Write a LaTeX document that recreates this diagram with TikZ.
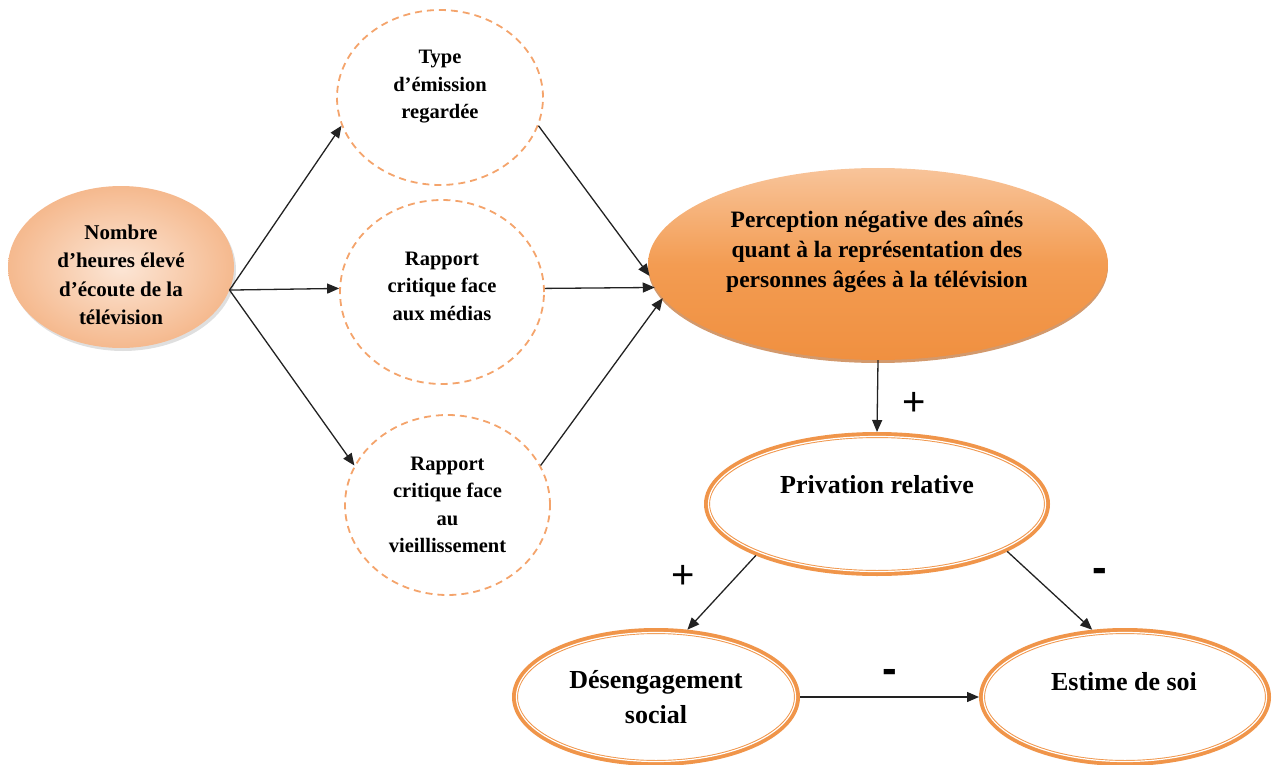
\documentclass[tikz,border=0pt]{standalone}
\usepackage{fontspec}
\setmainfont{Liberation Serif}
\newfontfamily\signfont{Liberation Sans}
\usetikzlibrary{arrows.meta,shapes.geometric,shadows}
\definecolor{dashorange}{HTML}{F4A46C}
\definecolor{ringorange}{HTML}{F0954A}
\definecolor{peachin}{HTML}{FCE6D6}
\definecolor{peachout}{HTML}{F5B98E}
\definecolor{bigtop}{HTML}{F8C49A}
\definecolor{bigmid}{HTML}{F39C52}
\definecolor{bigbot}{HTML}{F09040}
\definecolor{bigshadow}{HTML}{C06E2E}
\definecolor{arrowgray}{HTML}{222222}
\begin{document}
\begin{tikzpicture}[x=1pt,y=-1pt,
  dashcirc/.style={ellipse, draw=dashorange, dash pattern=on 7pt off 5pt, line width=1.8pt, inner sep=0pt},
  ring/.style={ellipse, draw=ringorange, line width=6pt, inner sep=0pt},
  ringline/.style={draw=white, line width=1.2pt},
  smalltxt/.style={align=center, font=\bfseries\fontsize{20.5}{27.5}\selectfont},
  bigtxt/.style={align=center, font=\bfseries\fontsize{23.5}{30}\selectfont},
  ringtxt/.style={align=center, font=\bfseries\fontsize{26}{35}\selectfont},
  arr/.style={-{Triangle[length=12pt,width=10pt]}, line width=1.3pt, draw=arrowgray},
  signtxt/.style={font=\signfont\fontsize{40}{40}\selectfont},
  minustxt/.style={font=\signfont\bfseries\fontsize{44}{44}\selectfont}
]
\useasboundingbox (0,0) rectangle (1272,765);

% left source ellipse
\node[ellipse, inner sep=0pt, minimum width=226pt, minimum height=162pt,
      shading=radial, inner color=peachin, outer color=peachout,
      drop shadow={shadow xshift=2pt, shadow yshift=-3pt, opacity=0.25}] (src) at (121,267) {};
\node[smalltxt, font=\bfseries\fontsize{21}{28.5}\selectfont] (srct) at (121,275) {Nombre\\d’heures élevé\\d’écoute de la\\télévision};

% dashed circles
\node[dashcirc, minimum width=206pt, minimum height=175pt] (c1) at (440,97.5) {};
\node[smalltxt] (c1t) at (440,87) {Type\\d’émission\\regardée};
\node[dashcirc, minimum width=204pt, minimum height=184pt] (c2) at (442,292) {};
\node[smalltxt] (c2t) at (442,286) {Rapport\\critique face\\aux médias};
\node[dashcirc, minimum width=205pt, minimum height=180pt] (c3) at (447.5,505) {};
\node[smalltxt] (c3t) at (447.5,505) {Rapport\\critique face\\au\\vieillissement};

% big ellipse
\node[ellipse, inner sep=0pt, minimum width=460pt, minimum height=192pt,
      top color=bigtop, bottom color=bigbot, middle color=bigmid,
      drop shadow={shadow xshift=0pt, shadow yshift=-3pt, fill=bigshadow, opacity=0.7}] (big) at (878,264) {};
\node[bigtxt] (bigt) at (877,252) {Perception négative des aînés\\quant à la représentation des\\personnes âgées à la télévision};

% ring ellipses
\node[ring, minimum width=340pt, minimum height=138pt] (priv) at (877,504) {};
\draw[ringline] (priv.center) ellipse [x radius=168.5pt, y radius=67.5pt];
\node[ringtxt] (privt) at (877,485) {Privation relative};

\node[ring, minimum width=282pt, minimum height=132pt] (des) at (656,697) {};
\draw[ringline] (des.center) ellipse [x radius=139.5pt, y radius=64.5pt];
\node[ringtxt] (dest) at (656,697) {Désengagement\\social};

\node[ring, minimum width=286pt, minimum height=132pt] (est) at (1125,697) {};
\draw[ringline] (est.center) ellipse [x radius=141.5pt, y radius=64.5pt];
\node[ringtxt] (estt) at (1124,682) {Estime de soi};

% connectors
\draw[arr] (src.-12) -- (c1.196);
\draw[arr] (src.-12) -- (c2.178);
\draw[arr] (src.-12) -- (c3.157);
\draw[arr] (c1.-16) -- (big.183);
\draw[arr] (c2.2) -- (big.186);
\draw[arr] (c3.23) -- (big.189);
\draw[arr] (big.south) -- (priv.north);
\draw[arr] (priv.203) -- (des.65);
\draw[arr] (priv.-20) -- (est.116);
\draw[arr] (des.east) -- (est.west);

% signs
\node[signtxt] (s1) at (914,404) {+};
\node[signtxt] (s2) at (683,577) {+};
\node[minustxt] (s3) at (1100,575) {-};
\node[minustxt] (s4) at (890,676) {-};
\end{tikzpicture}
\end{document}
